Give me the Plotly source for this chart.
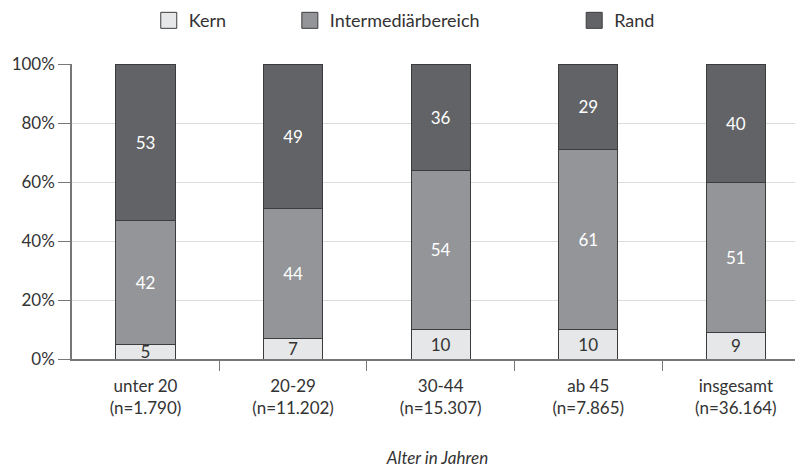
import plotly.graph_objects as go

categories = ["unter 20<br>(n=1.790)", "20-29<br>(n=11.202)", "30-44<br>(n=15.307)",
              "ab 45<br>(n=7.865)", "insgesamt<br>(n=36.164)"]
kern = [5, 7, 10, 10, 9]
intermediaer = [42, 44, 54, 61, 51]
rand = [53, 49, 36, 29, 40]
series_names = ["Kern", "Intermediärbereich", "Rand"]
y_ticks = [0, 20, 40, 60, 80, 100]
y_ticklabels = ["0%", "20%", "40%", "60%", "80%", "100%"]

colors = ["#e6e7e8", "#939598", "#626366"]
text_colors = ["#333333", "#ffffff", "#ffffff"]
edge = "#3c3c3c"
FONT = "Lato"

fig = go.Figure()
for name, vals, col, tcol in zip(series_names, [kern, intermediaer, rand], colors, text_colors):
    fig.add_trace(go.Bar(
        x=categories, y=vals, name=name, showlegend=False,
        marker=dict(color=col, line=dict(color=edge, width=1)),
        text=[str(v) for v in vals], texttemplate="%{text}",
        textposition="inside", insidetextanchor="middle", textangle=0,
        insidetextfont=dict(color=tcol, size=17, family=FONT),
        width=0.4, hoverinfo="skip",
    ))

legend_x = [0.105, 0.298, 0.687]
for i, (name, col) in enumerate(zip(series_names, colors)):
    lg = "legend" if i == 0 else f"legend{i+1}"
    fig.add_trace(go.Scatter(
        x=[None], y=[None], mode="markers", name=name, legend=lg,
        marker=dict(symbol="square", size=20, color=col, line=dict(color=edge, width=1)),
    ))

legend_common = dict(orientation="h", yanchor="middle", y=1.147, xanchor="left",
                     font=dict(family=FONT, size=18, color="#333333"),
                     bgcolor="rgba(0,0,0,0)", itemsizing="trace")

fig.update_layout(
    width=795, height=460,
    margin=dict(l=64, r=0, t=56, b=109, autoexpand=False),
    paper_bgcolor="white", plot_bgcolor="white",
    barmode="stack", barnorm="percent",
    bargap=0.6,
    font=dict(family=FONT, size=17, color="#333333"),
    uniformtext=dict(minsize=17, mode="show"),
    legend=dict(x=legend_x[0], **legend_common),
    legend2=dict(x=legend_x[1], **legend_common),
    legend3=dict(x=legend_x[2], **legend_common),
    xaxis=dict(
        type="category", range=[-0.498, 4.455],
        showline=True, linecolor="#777777", linewidth=1.5,
        ticks="outside", tickson="boundaries", ticklen=10, tickcolor="#777777",
        ticklabelstandoff=11,
        tickfont=dict(family=FONT, size=17, color="#333333"),
        title=dict(text="<i>Alter in Jahren</i>", font=dict(family=FONT, size=17, color="#333333"), standoff=39),
        showgrid=False, zeroline=False,
    ),
    yaxis=dict(
        range=[0, 100], tickvals=y_ticks, ticktext=y_ticklabels,
        showline=True, linecolor="#777777", linewidth=1.5,
        ticks="outside", ticklen=12, tickcolor="#777777",
        showgrid=True, gridcolor="#dcdcdc", gridwidth=1,
        zeroline=False,
        tickfont=dict(family=FONT, size=17, color="#333333"),
    ),
)

fig.write_html("out.html")
